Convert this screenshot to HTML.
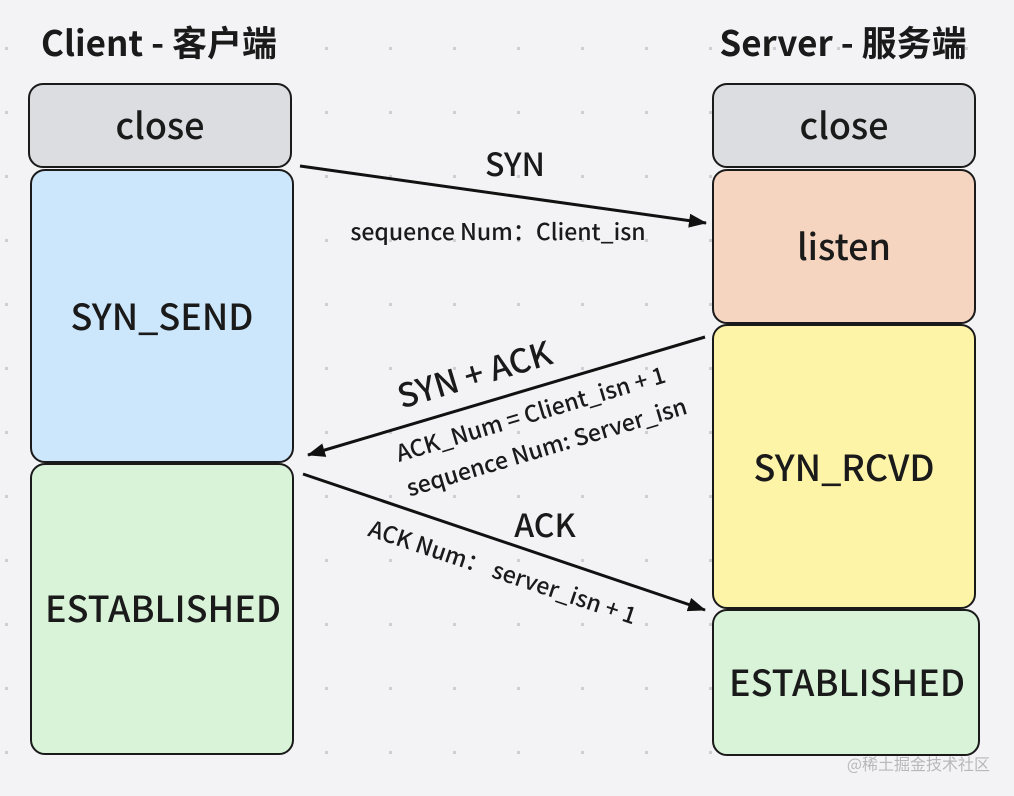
<!DOCTYPE html>
<html><head><meta charset="utf-8"><style>
html,body{margin:0;padding:0;background:#f3f3f5;}
svg{display:block;font-family:"Noto Sans CJK SC","Liberation Sans",sans-serif;}
</style></head><body>
<svg width="1014" height="796" viewBox="0 0 1014 796" xmlns="http://www.w3.org/2000/svg">
<defs>
<pattern id="dots" x="5" y="47" width="64" height="64" patternUnits="userSpaceOnUse">
<rect x="0" y="0" width="3" height="3" fill="#cfcfd3"/>
</pattern>
<marker id="ah2" markerWidth="18" markerHeight="14" refX="17" refY="7" orient="auto" markerUnits="userSpaceOnUse">
<path d="M0,0 L18,7 L0,14 z" fill="#111"/>
</marker>
</defs>
<rect width="1014" height="796" fill="#f3f3f5"/>
<rect width="1014" height="796" fill="url(#dots)"/>

<text x="159" y="56" font-size="35" font-weight="600" text-anchor="middle" fill="#1a1a1a">Client - 客户端</text>
<text x="843" y="56" font-size="35" font-weight="600" text-anchor="middle" fill="#1a1a1a">Server - 服务端</text>

<g stroke="#1a1a1a" stroke-width="2">
<rect x="29" y="84" width="262" height="83" rx="14" fill="#dcdde0"/>
<rect x="31" y="170" width="262" height="292" rx="14" fill="#cce6fb"/>
<rect x="31" y="464" width="262" height="290" rx="14" fill="#d9f3d9"/>
<rect x="713" y="84" width="262" height="83" rx="14" fill="#dcdde0"/>
<rect x="713" y="170" width="262" height="153" rx="14" fill="#f6d5c0"/>
<rect x="713" y="325" width="262" height="283" rx="14" fill="#fdf4a8"/>
<rect x="713" y="610" width="266" height="145" rx="14" fill="#d9f3d9"/>
</g>

<g font-size="36" font-weight="500" text-anchor="middle" fill="#1a1a1a">
<text x="160" y="139">close</text>
<text x="162" y="330">SYN_SEND</text>
<text x="163" y="622">ESTABLISHED</text>
<text x="844" y="139">close</text>
<text x="844" y="260">listen</text>
<text x="844" y="481">SYN_RCVD</text>
<text x="847" y="696">ESTABLISHED</text>
</g>

<g stroke="#111" stroke-width="3" fill="none">
<line x1="300" y1="166" x2="706" y2="223" marker-end="url(#ah2)"/>
<line x1="705" y1="337" x2="308" y2="455" marker-end="url(#ah2)"/>
<line x1="303" y1="474" x2="705" y2="610" marker-end="url(#ah2)"/>
</g>

<g fill="#1a1a1a" font-weight="500">
<text x="515" y="176" font-size="32" text-anchor="middle">SYN</text>
<text x="498" y="240" font-size="23" text-anchor="middle">sequence Num：Client_isn</text>
<text transform="translate(478,386) rotate(-16.6)" font-size="33" text-anchor="middle">SYN + ACK</text>
<text transform="translate(533,422) rotate(-16.6)" font-size="23" text-anchor="middle">ACK_Num = Client_isn + 1</text>
<text transform="translate(549,455) rotate(-16.6)" font-size="23" text-anchor="middle">sequence Num: Server_isn</text>
<text x="545" y="537" font-size="32" text-anchor="middle">ACK</text>
<text transform="translate(500,580) rotate(18.5)" font-size="23" text-anchor="middle">ACK Num：  server_isn + 1</text>
</g>

<text x="990" y="770" font-size="16" text-anchor="end" fill="#b8b8bc">@稀土掘金技术社区</text>
</svg>
</body></html>
